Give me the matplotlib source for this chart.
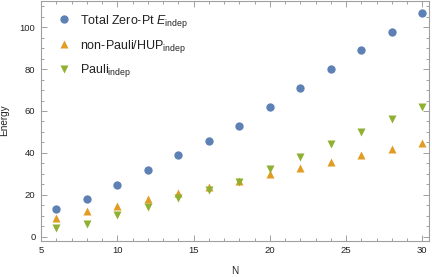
import matplotlib
matplotlib.use("Agg")
import matplotlib.pyplot as plt
from matplotlib.ticker import MultipleLocator

plt.rcParams['font.family'] = ['Liberation Sans', 'DejaVu Sans']
plt.rcParams['mathtext.fontset'] = 'custom'
plt.rcParams['mathtext.rm'] = 'Liberation Sans'
plt.rcParams['mathtext.it'] = 'Liberation Sans:italic'

N = [6, 8, 10, 12, 14, 16, 18, 20, 22, 24, 26, 28, 30]
total = [13.0, 17.9, 24.9, 31.9, 39.0, 45.9, 53.0, 61.9, 70.8, 79.9, 88.9, 97.6, 106.9]
nonpauli = [8.8, 12.1, 14.8, 17.9, 20.8, 23.8, 26.4, 29.9, 32.7, 35.7, 38.9, 41.8, 44.8]
pauli = [4.1, 6.2, 10.2, 14.1, 18.3, 22.1, 26.2, 32.2, 38.1, 44.1, 50.0, 56.4, 62.1]

labels = [r'Total Zero-Pt $E_{\rm indep}$', r'non-Pauli/HUP$_{\rm indep}$', r'Pauli$_{\rm indep}$']
colors = ['#5E81B5', '#E19C24', '#8FB032']

fig = plt.figure(figsize=(4.32, 2.77), dpi=100)
ax = fig.add_axes([41/432, 1 - 240.7/277, (429.3 - 41)/432, 240.7/277 - 0.002])

ax.plot(N, total, 'o', color=colors[0], ms=6, mec='none', label=labels[0])
ax.plot(N, nonpauli, '^', color=colors[1], ms=5.5, mec='none', label=labels[1])
ax.plot(N, pauli, 'v', color=colors[2], ms=5.5, mec='none', label=labels[2])

ax.set_xlim(5, 30.46)
ax.set_ylim(-1.9, 112.7)
ax.xaxis.set_major_locator(MultipleLocator(5))
ax.xaxis.set_minor_locator(MultipleLocator(1))
ax.yaxis.set_major_locator(MultipleLocator(20))
ax.yaxis.set_minor_locator(MultipleLocator(5))

gray = '#a0a0a0'
for s in ax.spines.values():
    s.set_color(gray)
    s.set_linewidth(0.8)
ax.tick_params(which='both', direction='in', top=True, right=True, color=gray,
               labelsize=6.8, labelcolor='#222222', width=0.7)
ax.tick_params(which='major', length=4, pad=4)
ax.tick_params(which='minor', length=2.2)

ax.set_xlabel('N', fontsize=7.2, color='#222222')
ax.set_ylabel('Energy', fontsize=7.2, color='#222222')
ax.xaxis.set_label_coords(0.5, -0.106)
ax.yaxis.set_label_coords(-0.082, 0.5)

leg = ax.legend(loc='upper left', bbox_to_anchor=(0.02, 0.985), frameon=False,
                fontsize=9, handletextpad=0.76, labelspacing=0.62, handlelength=1.0,
                borderaxespad=0.3)
for t in leg.get_texts():
    t.set_color('#222222')

fig.savefig('out.png', dpi=100)
